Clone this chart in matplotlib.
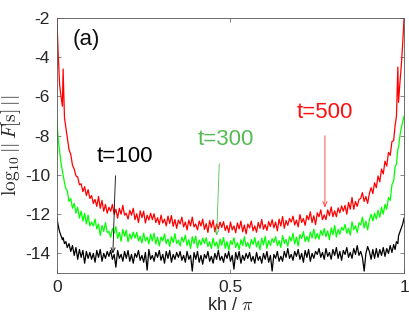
import numpy as np
import matplotlib
matplotlib.use("Agg")
import matplotlib.pyplot as plt

plt.rcParams['font.family'] = ['Liberation Sans', 'DejaVu Sans']
plt.rcParams['mathtext.fontset'] = 'cm'
plt.rcParams['axes.unicode_minus'] = False

# sample positions kh/pi
x_left = [0, 0.004, 0.008, 0.012, 0.016, 0.018, 0.022, 0.026, 0.03, 0.035, 0.04,
          0.045, 0.05, 0.055, 0.06, 0.065, 0.07, 0.075, 0.08, 0.085, 0.09, 0.095]
x_mid = list(np.round(np.arange(0.10, 0.9001, 0.005), 4))
x_right = [0.905, 0.91, 0.915, 0.92, 0.925, 0.93, 0.935, 0.94, 0.945, 0.95, 0.955,
           0.96, 0.965, 0.97, 0.974, 0.978, 0.982, 0.984, 0.988, 0.992, 0.996, 1.0]
kh = np.array(x_left + x_mid + x_right)

# t = 500 (red)
red_left = [-2.0, -3.9, -5.4, -6.0, -6.5, -4.6, -7.1, -7.6, -8.1, -8.7, -8.95,
            -9.5, -9.7, -10.05, -10.1, -10.5, -10.45, -10.85, -10.6, -11.05, -10.75, -11.2]
red_mid = [-11.05, -11.45, -11.25, -11.6, -11.1,
           -11.7, -11.3, -11.85, -11.5, -11.95,
           -11.65, -11.85, -11.5, -12.0, -11.75,
           -12.2, -11.7, -12.0, -11.55, -12.05,
           -11.95, -12.25, -11.8, -12.05, -11.7,
           -12.28, -11.98, -12.43, -11.83, -12.18,
           -11.85, -12.45, -12.05, -12.3, -11.95,
           -12.28, -11.98, -12.43, -12.18, -12.53,
           -12.05, -12.45, -12.25, -12.6, -12.1,
           -12.47, -12.07, -12.62, -12.27, -12.72,
           -12.3, -12.5, -12.15, -12.65, -12.4,
           -12.8, -12.3, -12.6, -12.15, -12.65,
           -12.5, -12.8, -12.35, -12.6, -12.25,
           -12.78, -12.48, -12.93, -12.33, -12.68,
           -12.3, -12.9, -12.5, -12.75, -12.4,
           -12.68, -12.38, -12.83, -12.58, -12.93,
           -12.4, -12.8, -12.6, -12.95, -12.45,
           -12.75, -12.35, -12.9, -12.55, -13.0,
           -12.5, -12.7, -12.35, -12.85, -12.6,
           -12.92, -12.42, -12.72, -12.27, -12.77,
           -12.53, -12.83, -12.38, -12.63, -12.28,
           -12.7, -12.4, -12.85, -12.25, -12.6,
           -12.12, -12.72, -12.32, -12.57, -12.22,
           -12.4, -12.1, -12.55, -12.3, -12.65,
           -12.02, -12.42, -12.22, -12.57, -12.07,
           -12.28, -11.88, -12.43, -12.08, -12.53,
           -11.93, -12.13, -11.78, -12.28, -12.03,
           -12.28, -11.78, -12.08, -11.63, -12.13,
           -11.83, -12.13, -11.68, -11.93, -11.58,
           -11.85, -11.55, -12.0, -11.4, -11.75,
           -11.15, -11.75, -11.35, -11.6, -11.25,
           -11.2, -10.9, -11.35, -11.1, -11.45,
           -10.95]
red_right = [-10.65, -10.95, -10.4, -10.65, -10.05, -10.35, -9.7, -9.95, -9.3, -9.55, -8.85,
             -9.0, -8.3, -8.25, -7.5, -7.0, -4.5, -6.3, -5.3, -4.4, -3.3, -2.0]
t500 = red_left + red_mid + red_right

# t = 300 (green)
green_left = [-7.2, -8.2, -8.8, -9.4, -9.8, -10.0, -10.4, -10.7, -10.8, -11.35, -11.2,
              -11.7, -11.45, -11.95, -11.65, -12.2, -11.85, -12.35, -11.95, -12.5, -12.05, -12.6]
green_mid = [-12.4, -12.6, -12.25, -12.75, -12.5,
             -13.08, -12.58, -12.88, -12.43, -12.93,
             -12.88, -13.18, -12.73, -12.98, -12.63,
             -13.23, -12.93, -13.38, -12.78, -13.13,
             -12.81, -13.41, -13.01, -13.26, -12.91,
             -13.22, -12.92, -13.37, -13.12, -13.47,
             -12.97, -13.37, -13.17, -13.52, -13.02,
             -13.37, -12.97, -13.52, -13.17, -13.62,
             -13.16, -13.36, -13.01, -13.51, -13.26,
             -13.64, -13.14, -13.44, -12.99, -13.49,
             -13.32, -13.62, -13.17, -13.42, -13.07,
             -13.6, -13.3, -13.75, -13.15, -13.5,
             -13.12, -13.72, -13.32, -13.57, -13.22,
             -13.5, -13.2, -13.65, -13.4, -13.75,
             -13.22, -13.62, -13.42, -13.77, -13.27,
             -13.59, -13.19, -13.74, -13.39, -13.84,
             -13.35, -13.55, -13.2, -13.7, -13.45,
             -13.8, -13.3, -13.6, -13.15, -13.65,
             -13.44, -13.74, -13.29, -13.54, -13.19,
             -13.67, -13.37, -13.82, -13.22, -13.57,
             -13.14, -13.74, -13.34, -13.59, -13.24,
             -13.45, -13.15, -13.6, -13.35, -13.7,
             -13.09, -13.49, -13.29, -13.64, -13.14,
             -13.37, -12.97, -13.52, -13.17, -13.62,
             -13.04, -13.24, -12.89, -13.39, -13.14,
             -13.41, -12.91, -13.21, -12.76, -13.26,
             -12.98, -13.28, -12.83, -13.08, -12.73,
             -13.15, -12.85, -13.3, -12.7, -13.05,
             -12.57, -13.17, -12.77, -13.02, -12.67,
             -12.82, -12.52, -12.97, -12.72, -13.07,
             -12.39, -12.79, -12.59, -12.94, -12.44,
             -12.55, -12.15, -12.7, -12.35, -12.8,
             -12.3]
green_right = [-12.0, -12.35, -11.95, -12.25, -11.8, -12.15, -11.65, -12.0, -11.5, -11.75, -11.15,
               -11.3, -10.5, -10.3, -9.6, -9.45, -8.7, -8.6, -8.0, -7.6, -7.3, -7.0]
t300 = green_left + green_mid + green_right

# t = 100 (black)
black_left = [-12.2, -12.6, -12.9, -13.1, -13.3, -13.2, -13.5, -13.4, -13.7, -13.5, -13.9,
              -13.6, -14.1, -13.7, -14.3, -13.8, -14.2, -13.85, -14.5, -13.9, -14.25, -13.95]
black_mid = [-14.3, -14.0, -14.45, -13.85, -14.2,
             -13.8, -14.4, -14.0, -14.25, -13.9,
             -14.15, -13.85, -14.3, -14.05, -14.7,
             -13.85, -14.25, -14.05, -14.4, -13.9,
             -14.25, -13.85, -14.4, -14.05, -14.5,
             -14.0, -14.2, -13.85, -14.35, -14.1,
             -14.45, -13.95, -14.85, -13.8, -14.3,
             -14.1, -14.4, -13.95, -14.2, -13.85,
             -14.35, -14.05, -14.5, -13.9, -14.25,
             -13.85, -14.45, -14.05, -14.3, -13.95,
             -14.2, -13.9, -14.35, -14.1, -14.45,
             -13.9, -14.3, -14.1, -14.9, -13.95,
             -14.3, -13.9, -14.45, -14.1, -14.55,
             -14.05, -14.25, -13.9, -14.4, -14.15,
             -14.5, -14.0, -14.3, -13.85, -14.35,
             -14.15, -14.45, -14.0, -14.25, -13.9,
             -14.4, -14.1, -14.8, -13.95, -14.3,
             -13.9, -14.5, -14.1, -14.35, -14.0,
             -14.25, -13.95, -14.4, -14.15, -14.5,
             -13.95, -14.35, -14.15, -14.5, -14.0,
             -14.3, -13.9, -14.45, -14.1, -14.9,
             -14.05, -14.25, -13.9, -14.4, -14.15,
             -14.4, -13.9, -14.2, -13.75, -14.25,
             -14.05, -14.35, -13.9, -14.15, -13.8,
             -14.3, -14.0, -14.45, -13.85, -14.2,
             -13.8, -14.4, -14.0, -14.25, -13.9,
             -14.05, -13.75, -14.2, -13.95, -14.3,
             -13.75, -14.15, -13.95, -14.3, -13.8,
             -14.1, -13.7, -14.25, -13.9, -14.35,
             -13.85, -14.05, -13.7, -14.2, -13.95,
             -14.25, -13.75, -14.05, -13.6, -14.1,
             -13.9, -14.2, -14.9, -14.0, -13.65,
             -13.9]
black_right = [-14.3, -13.8, -14.25, -13.75, -14.2, -13.8, -14.1, -13.7, -14.15, -13.75, -14.0,
               -13.6, -13.95, -13.55, -13.8, -13.4, -13.5, -13.1, -12.9, -12.7, -12.5, -12.2]
t100 = black_left + black_mid + black_right

xticks = [0, 0.5, 1]
xticklabels = ['0', '0.5', '1']
yticks = [-14, -12, -10, -8, -6, -4, -2]

fig = plt.figure(figsize=(4.09, 3.27), dpi=100)
ax = fig.add_axes([0.139, 0.165, 0.849, 0.78])

ax.plot(kh, t100, color='black', lw=0.9)
ax.plot(kh, t300, color='#00ff00', lw=0.9)
ax.plot(kh, t500, color='#ff0000', lw=0.9)

ax.set_xlim(0, 1)
ax.set_ylim(-15, -2)
ax.set_xticks(xticks)
ax.set_xticklabels(xticklabels)
ax.set_yticks(yticks)
ax.set_yticklabels([str(v) for v in yticks])

edge = '#262626'
for s in ax.spines.values():
    s.set_color('#555555')
    s.set_linewidth(0.6)
ax.tick_params(direction='in', length=3, width=0.5, colors='#555555',
               top=True, right=True, labelsize=12.5, labelcolor=edge, pad=5)

ax.set_xlabel(r'kh / $\pi$', fontsize=13, color=edge, labelpad=1)
ax.set_ylabel(r'$\log_{10}||\,F[\mathrm{s}]\,||$', fontsize=14, color=edge, labelpad=1)

ax.text(0.086, -3.1, '(a)', fontsize=16, color='#111111', ha='center', va='center')

ax.text(0.197, -9.08, 't=100', fontsize=16, color='black', ha='center', va='center')
ax.annotate('', xy=(0.161, -14.15), xytext=(0.169, -9.9),
            arrowprops=dict(arrowstyle='->,head_length=0.35,head_width=0.15', color='black', lw=0.6))

ax.text(0.487, -8.2, 't=300', fontsize=16, color='#55bb55', ha='center', va='center')
ax.annotate('', xy=(0.46, -13.24), xytext=(0.468, -9.29),
            arrowprops=dict(arrowstyle='->,head_length=0.35,head_width=0.15', color='#55bb55', lw=0.6))

ax.text(0.772, -6.83, 't=500', fontsize=16, color='#ff1010', ha='center', va='center')
ax.annotate('', xy=(0.772, -11.8), xytext=(0.772, -7.86),
            arrowprops=dict(arrowstyle='->,head_length=0.35,head_width=0.15', color='#ff3030', lw=0.6))

fig.savefig('out.png', dpi=100)
